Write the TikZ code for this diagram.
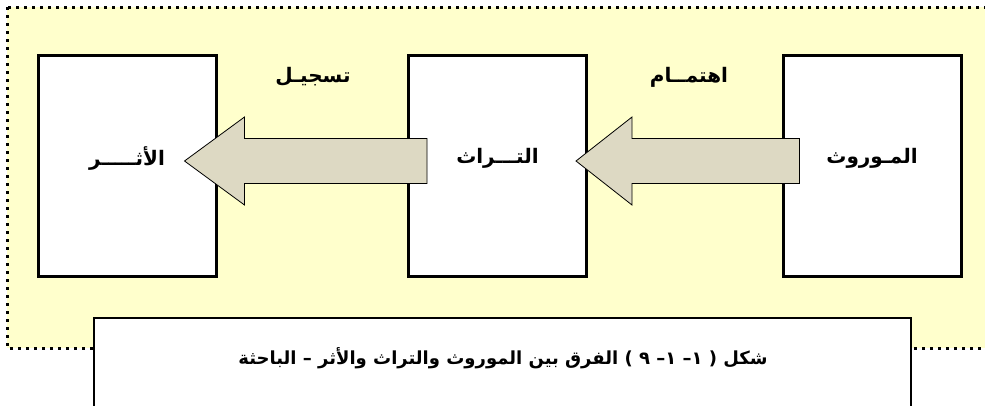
\documentclass[tikz,border=0pt]{standalone}
\usepackage{fontspec}
\newfontfamily\arabicfont[Script=Arabic]{DejaVu Sans}
\TeXXeTstate=1
\usetikzlibrary{calc}

\definecolor{panelfill}{HTML}{FFFFCC}
\definecolor{arrowfill}{HTML}{DDD9C3}

\tikzset{
  stagebox/.style={draw, line width=3pt, fill=white, minimum width=178pt, minimum height=221pt, inner sep=0pt},
  flowarrow/.style={draw, line width=0.8pt, fill=arrowfill, line join=miter},
  arlabel/.style={font=\arabicfont\bfseries\fontsize{20}{24}\selectfont, inner sep=1pt},
  captext/.style={font=\arabicfont\bfseries\fontsize{18}{22}\selectfont, inner sep=1pt},
}

\begin{document}
\begin{tikzpicture}[x=1pt, y=-1pt]
            \useasboundingbox (0,0) rectangle (985,405);
            % yellow panel
            \draw[line width=3pt, dash pattern=on 3pt off 5pt, fill=panelfill] (7,7) rectangle (1000,348);
            % the three stages
            \node[stagebox] (athar) at (127,165.5) {};
            \node[stagebox] (turath) at (497.5,165.5) {};
            \node[stagebox] (mawruth) at (872,165.5) {};
            % arrows
            \coordinate (tipA) at ($(athar.east)+(-33,-4.5)$);
            \coordinate (endA) at ($(turath.west)+(20,-4.5)$);
            \draw[flowarrow] (endA) ++(0,-22.5) -| ($(tipA)+(60,-44)$) -- (tipA) -- ++(60,44) |- ($(endA)+(0,22.5)$) -- cycle;
            \coordinate (tipB) at ($(turath.east)+(-12,-4.5)$);
            \coordinate (endB) at ($(mawruth.west)+(18,-4.5)$);
            \draw[flowarrow] (endB) ++(0,-22.5) -| ($(tipB)+(56,-44)$) -- (tipB) -- ++(56,44) |- ($(endB)+(0,22.5)$) -- cycle;
            % labels
            \node[arlabel] (atharlabel) at ($(athar)+(0,-7)$) {\beginR الأثـــــر\endR};
            \node[arlabel] (turathlabel) at ($(turath)+(0,-7)$) {\beginR التـــراث\endR};
            \node[arlabel] (mawruthlabel) at ($(mawruth)+(0,-7)$) {\beginR المـوروث\endR};
            \node[arlabel] (tasjil) at (313,77) {\beginR تسجيـل\endR};
            \node[arlabel] (ihtimam) at (689,77) {\beginR اهتمــام\endR};
            % caption
            \draw[line width=1.5pt, fill=white] (94,318) rectangle (911,420);
            \node[captext] (caption) at (503,358) {\beginR شكل ( ١– ١– ٩ ) الفرق بين الموروث والتراث والأثر – الباحثة\endR};
        \end{tikzpicture}
\end{document}
